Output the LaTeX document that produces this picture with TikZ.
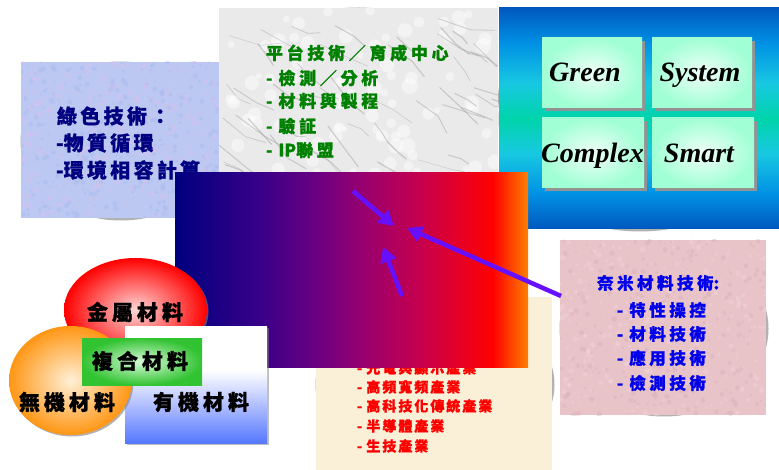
\documentclass[tikz,border=0pt]{standalone}
\usepackage{fontspec}
\newfontfamily\cjk{Noto Sans CJK TC}[BoldFeatures={FakeBold=1.0}]
\newfontfamily\tnr{Liberation Serif}
\usetikzlibrary{arrows.meta,shapes.geometric,shadows}
\XeTeXinterchartokenstate=1
\newlength\cjkgap
\newcount\cjkc
\cjkc="4E00
\loop \XeTeXcharclass\cjkc=7 \advance\cjkc by 1 \ifnum\cjkc<"A000 \repeat
\XeTeXcharclass"FF1A=7
\XeTeXcharclass"FF0F=7
\XeTeXinterchartoks 7 7 = {\kern\cjkgap}

\definecolor{navyt}{RGB}{0,0,128}
\definecolor{greent}{RGB}{0,128,0}
\definecolor{bluet}{RGB}{0,0,235}
\definecolor{redt}{RGB}{255,0,0}
\definecolor{lbfill}{RGB}{188,200,242}
\definecolor{lbspotA}{RGB}{222,192,236}
\definecolor{lbspotB}{RGB}{165,185,238}
\definecolor{marble}{RGB}{234,234,234}
\definecolor{vein}{RGB}{165,165,165}
\definecolor{pinkfill}{RGB}{232,196,201}
\definecolor{pkspotA}{RGB}{218,172,182}
\definecolor{pkspotB}{RGB}{244,214,219}
\definecolor{creamfill}{RGB}{250,240,215}
\definecolor{arrowc}{RGB}{102,16,255}
\definecolor{mintin}{RGB}{240,255,248}
\definecolor{mintout}{RGB}{160,255,212}
\definecolor{cA}{RGB}{0,0,128}
\definecolor{cB}{RGB}{56,0,136}
\definecolor{cC}{RGB}{106,0,130}
\definecolor{cD}{RGB}{154,0,110}
\definecolor{cE}{RGB}{200,0,76}
\definecolor{cF}{RGB}{255,0,0}
\definecolor{cG}{RGB}{255,128,0}
\definecolor{bA}{RGB}{0,88,190}
\definecolor{bB}{RGB}{0,145,228}
\definecolor{bC}{RGB}{24,200,226}
\definecolor{bD}{RGB}{0,212,170}
\definecolor{oA}{RGB}{85,120,255}
\definecolor{oB}{RGB}{170,185,255}
\definecolor{metalin}{RGB}{255,215,215}
\definecolor{orgin}{RGB}{255,240,215}
\definecolor{orgout}{RGB}{255,150,20}
\definecolor{grnin}{RGB}{215,250,215}
\definecolor{grnout}{RGB}{50,195,50}

\pgfdeclarehorizontalshading{corebar}{100bp}{color(0bp)=(cA); color(25bp)=(cA); color(37bp)=(cB); color(45bp)=(cC); color(52bp)=(cD); color(60bp)=(cE); color(70bp)=(cF); color(75bp)=(cG); color(100bp)=(cG)}
\pgfdeclareverticalshading{bluepanel}{100bp}{color(0bp)=(bA); color(25bp)=(bA); color(33bp)=(bB); color(42bp)=(bC); color(50bp)=(bD); color(58bp)=(bC); color(67bp)=(bB); color(75bp)=(bA); color(100bp)=(bA)}
\pgfdeclareverticalshading{organic}{100bp}{color(0bp)=(oA); color(25bp)=(oA); color(40bp)=(oB); color(56bp)=(white); color(75bp)=(white); color(100bp)=(white)}

\tikzset{
  lbtxt/.style={anchor=west, text=navyt, font=\cjk\bfseries\fontsize{20}{20}\selectfont\setlength\cjkgap{3.3pt}},
  mbtxt/.style={anchor=west, text=greent, font=\cjk\bfseries\fontsize{17}{17}\selectfont\setlength\cjkgap{3.7pt}},
  pktxt/.style={anchor=west, text=bluet, font=\cjk\bfseries\fontsize{16.5}{16.5}\selectfont\setlength\cjkgap{3.5pt}},
  crtxt/.style={anchor=west, text=redt, font=\cjk\bfseries\fontsize{14}{14}\selectfont\setlength\cjkgap{2pt}},
  cltxt/.style={text=black, font=\cjk\bfseries\fontsize{21}{21}\selectfont\setlength\cjkgap{4pt}},
  word/.style={anchor=base, text=black, font=\tnr\bfseries\itshape\fontsize{28}{28}\selectfont},
  mint/.style={minimum width=#1, minimum height=70pt, inner color=mintin, outer color=mintout,
    drop shadow={shadow xshift=3pt, shadow yshift=-3pt, fill=gray!85, opacity=1}},
  edgeshadow/.style={fill=gray!60},
  arr/.style={draw=arrowc, line width=4.5pt, -{Triangle[length=15pt,width=16pt]}},
}

\begin{document}
\begin{tikzpicture}[x=1pt,y=-1pt, every node/.style={inner sep=0pt, outer sep=0pt}]
\useasboundingbox (0,0) rectangle (779,470);
\fill[white] (0,0) rectangle (779,470);

% ---- shadow ellipses peeking behind the panels
\fill[edgeshadow] (121,141) ellipse [x radius=100.5, y radius=79.5];
\fill[edgeshadow] (359,98) ellipse [x radius=140, y radius=90.5];
\fill[edgeshadow] (640,119.5) ellipse [x radius=141.5, y radius=112];
\fill[edgeshadow] (664,328.5) ellipse [x radius=104.5, y radius=88];
\fill[edgeshadow] (435,384.5) ellipse [x radius=119.5, y radius=86.5];

% ---- left light-blue panel
\node[minimum width=198pt, minimum height=156pt, fill=lbfill] (lbpanel) at (120,140) {};
\begin{scope}
\clip (21,62) rectangle (219,218);
\pgfmathsetseed{11}
\foreach \i in {1,...,650}{
  \pgfmathsetmacro\xx{21+198*rnd}
  \pgfmathsetmacro\yy{62+156*rnd}
  \pgfmathsetmacro\rr{0.8+2*rnd}
  \pgfmathsetmacro\cc{rnd}
  \ifdim\cc pt<0.45pt \def\col{lbspotA}\else\def\col{lbspotB}\fi
  \fill[\col, opacity=0.4] (\xx,\yy) circle[radius=\rr];
}
\end{scope}

% ---- marble panel
\node[minimum width=279pt, minimum height=178pt, fill=marble] (mbpanel) at (358.5,97) {};
\begin{scope}
\clip (219,8) rectangle (498,186);
\pgfmathsetseed{5}
\foreach \i in {1,...,90}{
  \pgfmathsetmacro\xx{219+279*rnd}
  \pgfmathsetmacro\yy{8+178*rnd}
  \fill[white, opacity=0.45] (\xx,\yy) circle[radius=3+5*rnd];
}
\foreach \i in {1,...,55}{
  \pgfmathsetmacro\xx{219+279*rnd}
  \pgfmathsetmacro\yy{8+178*rnd}
  \pgfmathsetmacro\an{15+40*rnd}
  \pgfmathsetmacro\bn{\an+60*rnd-30}
  \pgfmathsetmacro\ln{10+25*rnd}
  \pgfmathsetmacro\lw{0.4+0.9*rnd}
  \draw[vein, opacity=0.5, line width=\lw pt, line cap=round, line join=round] (\xx,\yy) -- ++(\an:\ln) -- ++(\bn:\ln*0.7);
}
\end{scope}

% ---- blue panel with four boxes
\node[minimum width=280pt, minimum height=221pt, shade, shading=bluepanel] (bppanel) at (639,118.5) {};
\node[mint=100pt] (greenbox) at (592,73) {};
\node[mint=100pt] (systembox) at (702,73) {};
\node[mint=102pt] (complexbox) at (593,153) {};
\node[mint=102pt] (smartbox) at (703,153) {};
\node[word] (greenw) at (585,82) {Green};
\node[word] (systemw) at (700,82) {System};
\node[word] (complexw) at (592.5,163) {Complex};
\node[word] (smartw) at (699,163) {Smart};

% ---- pink panel
\node[minimum width=206pt, minimum height=175pt, fill=pinkfill] (pkpanel) at (663,327.5) {};
\begin{scope}
\clip (560,240) rectangle (766,415);
\pgfmathsetseed{23}
\foreach \i in {1,...,600}{
  \pgfmathsetmacro\xx{560+206*rnd}
  \pgfmathsetmacro\yy{240+175*rnd}
  \pgfmathsetmacro\rr{0.8+2*rnd}
  \pgfmathsetmacro\cc{rnd}
  \ifdim\cc pt<0.5pt \def\col{pkspotA}\else\def\col{pkspotB}\fi
  \fill[\col, opacity=0.4] (\xx,\yy) circle[radius=\rr];
}
\end{scope}

% ---- cream panel
\node[minimum width=236pt, minimum height=172pt, fill=creamfill] (crpanel) at (434,383.5) {};

% ---- panel texts
\node[lbtxt] (lb1) at (57,116) {綠色技術：};
\node[lbtxt] (lb2) at (56,143) {-物質循環};
\node[lbtxt] (lb3) at (56,170) {-環境相容計算};

\node[mbtxt] (mb1) at (266,53) {平台技術／育成中心};
\node[mbtxt] (mb2) at (266,78) {-\kern6pt檢測／分析};
\node[mbtxt] (mb3) at (266,101) {-\kern6pt材料與製程};
\node[mbtxt] (mb4) at (266,126) {-\kern6pt驗証};
\node[mbtxt] (mb5) at (266,150) {-\kern6pt IP聯盟};

\node[pktxt] (pk1) at (597,283) {奈米材料技術:};
\node[pktxt] (pk2) at (617,310) {-\kern6pt特性操控};
\node[pktxt] (pk3) at (617,334) {-\kern6pt材料技術};
\node[pktxt] (pk4) at (617,358) {-\kern6pt應用技術};
\node[pktxt] (pk5) at (617,383) {-\kern6pt檢測技術};

\node[crtxt] (cr1) at (357,368) {-\kern4pt光電與顯示產業};
\node[crtxt] (cr2) at (357,387) {-\kern4pt高頻寬頻產業};
\node[crtxt] (cr3) at (357,406) {-\kern4pt高科技化傳統產業};
\node[crtxt] (cr4) at (357,426) {-\kern4pt半導體產業};
\node[crtxt] (cr5) at (357,446) {-\kern4pt生技產業};

% ---- central gradient block
\node[minimum width=353pt, minimum height=194pt, shade, shading=corebar] (core) at (351.5,270) {};

% ---- materials cluster
\node[ellipse, minimum width=143pt, minimum height=104pt, inner color=metalin, outer color=red,
      drop shadow={shadow xshift=1.5pt, shadow yshift=-1.5pt, fill=gray, opacity=0.6}] (metal) at (135.5,310) {};
\node[minimum width=142pt, minimum height=117pt, shade, shading=organic,
      drop shadow={shadow xshift=1.5pt, shadow yshift=-1.5pt, fill=gray, opacity=0.5}] (organicbox) at (196,384.5) {};
\node[ellipse, minimum width=123pt, minimum height=109pt, inner color=orgin, outer color=orgout,
      drop shadow={shadow xshift=1.5pt, shadow yshift=-1.5pt, fill=gray, opacity=0.6}] (ceramic) at (70.5,380.5) {};
\node[minimum width=120pt, minimum height=47pt, inner color=grnin, outer color=grnout] (composite) at (142,361.5) {};

\node[cltxt] (metalt) at (135,312) {金屬材料};
\node[cltxt] (compt) at (140,361) {複合材料};
\node[cltxt] (ceramt) at (67,402) {無機材料};
\node[cltxt] (orgt) at (201,402) {有機材料};

% ---- arrows
\coordinate (a1s) at (353,191);
\coordinate (a1e) at (394,226);
\coordinate (a2s) at (402,296);
\coordinate (a2e) at (383,247);
\coordinate (a3s) at (561,296);
\coordinate (a3e) at (407,228);
\draw[arr] (a1s) -- (a1e);
\draw[arr] (a2s) -- (a2e);
\draw[arr] (a3s) -- (a3e);
\end{tikzpicture}
\end{document}
